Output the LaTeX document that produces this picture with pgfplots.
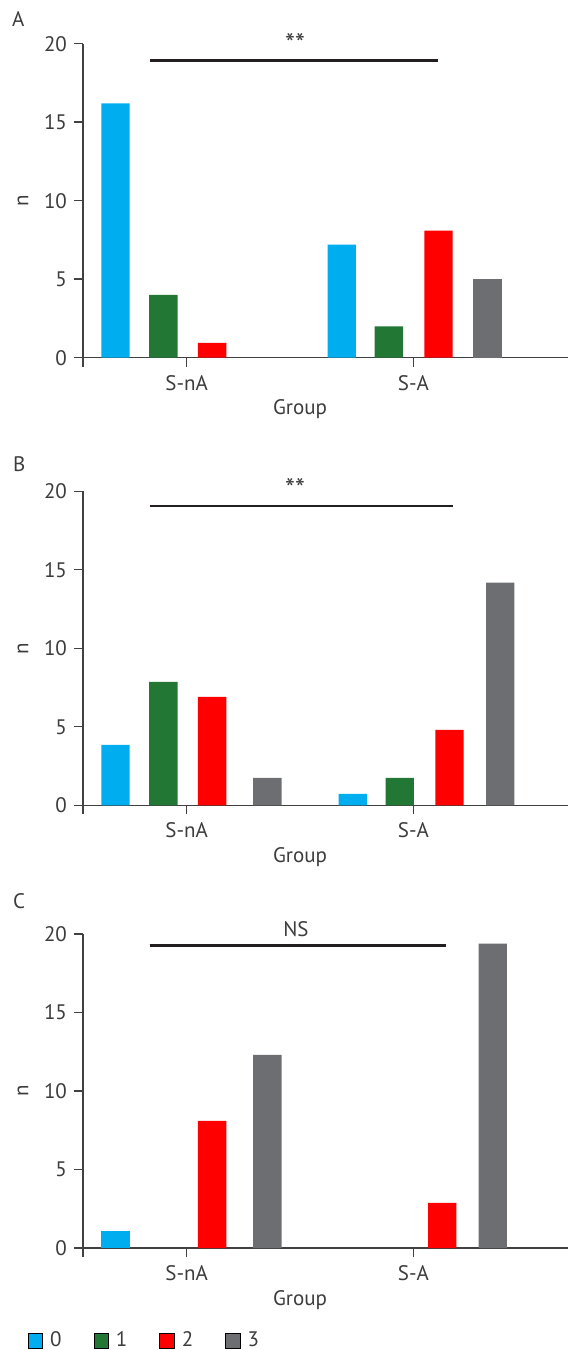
\documentclass[border=0pt]{standalone}
\usepackage{fontspec}
\setmainfont{PT Sans}
\usepackage{pgfplots}
\pgfplotsset{compat=1.18}
\definecolor{c0}{RGB}{0,174,239}
\definecolor{c1}{RGB}{35,119,52}
\definecolor{c2}{RGB}{255,0,0}
\definecolor{c3}{RGB}{109,110,114}
\definecolor{axc}{RGB}{65,64,66}
\definecolor{txt}{RGB}{60,60,60}
\definecolor{sig}{RGB}{35,31,32}
\newcommand{\fs}{\fontsize{10.5}{12}\selectfont}
\pgfplotsset{
 panel/.style={
  scale only axis, width=242.5pt, height=157pt,
  xmin=0.5426, xmax=2.682, ymin=0, ymax=20,
  axis lines*=left,
  axis line style={axc, line width=0.7pt},
  tick style={axc, line width=0.7pt},
  tick align=outside,
  major tick length=4.5pt,
  xtick={1,2}, xticklabels={S-nA,S-A},
  ytick={0,5,10,15,20},
  tick label style={font=\fs, text=txt},
  /pgf/number format/assume math mode=true,
  xticklabel style={anchor=base, yshift=-11.7pt},
  xlabel={Group}, ylabel={n},
  every axis x label/.style={at={(axis cs:1.5,0)}, anchor=base, yshift=-28.65pt, font=\fs, text=txt},
  every axis y label/.style={at={(axis description cs:-0.1237,0.5)}, rotate=90, anchor=center, font=\fs, text=txt},
  clip=false,
  anchor=south west,
 },
 bars/.style={ybar, bar width=0.125, bar shift=0pt, draw=none, fill=#1},
}
\begin{document}
\begin{tikzpicture}
\useasboundingbox (0pt,0pt) rectangle (284pt,675pt);
% Panel A
\begin{axis}[panel, at={(41.5pt,496.15pt)}]
\addplot[bars=c0] coordinates {(0.686,16.2) (1.684,7.2)};
\addplot[bars=c1] coordinates {(0.897,4.0) (1.892,2.0)};
\addplot[bars=c2] coordinates {(1.112,0.95) (2.111,8.1)};
\addplot[bars=c3] coordinates {(2.327,5.0)};
\draw[axc, line width=0.7pt] (axis cs:0.5426,0) -- ++(0pt,-4.5pt);
\draw[sig, line width=1.3pt] (axis cs:0.837,18.94) -- (axis cs:2.107,18.94);
\node[anchor=base, text=txt, font=\fontsize{14}{14}\selectfont] at (axis cs:1.478,19.38) {**};
\end{axis}
% Panel B
\begin{axis}[panel, at={(41.5pt,272.35pt)}]
\addplot[bars=c0] coordinates {(0.686,3.85) (1.733,0.72)};
\addplot[bars=c1] coordinates {(0.897,7.86) (1.940,1.74)};
\addplot[bars=c2] coordinates {(1.112,6.9) (2.159,4.8)};
\addplot[bars=c3] coordinates {(1.356,1.74) (2.383,14.18)};
\draw[axc, line width=0.7pt] (axis cs:0.5426,0) -- ++(0pt,-4.5pt);
\draw[sig, line width=1.3pt] (axis cs:0.837,19.07) -- (axis cs:2.175,19.07);
\node[anchor=base, text=txt, font=\fontsize{14}{14}\selectfont] at (axis cs:1.478,19.55) {**};
\end{axis}
% Panel C
\begin{axis}[panel, at={(41.5pt,51pt)},
  legend columns=4,
  legend style={draw=none, fill=none, inner sep=0pt, outer sep=0pt,
    at={(axis description cs:0,0)}, anchor=west, xshift=-27.65pt, yshift=-46.5pt,
    font=\fs, text=txt,
    /tikz/every odd column/.append style={column sep=1.5pt},
    /tikz/every even column/.append style={column sep=14pt}},
  legend image code/.code={\fill[#1] (0pt,-3.7pt) rectangle (7.3pt,3.7pt);},
]
\addplot[bars=c0, forget plot] coordinates {(0.686,1.08)};
\addplot[bars=c2, forget plot] coordinates {(1.112,8.1) (2.127,2.87)};
\addplot[bars=c3, forget plot] coordinates {(1.356,12.3) (2.350,19.38)};
\addlegendimage{fill=c0}\addlegendentry{0}
\addlegendimage{fill=c1}\addlegendentry{1}
\addlegendimage{fill=c2}\addlegendentry{2}
\addlegendimage{fill=c3}\addlegendentry{3}
\draw[axc, line width=0.7pt] (axis cs:0.5426,0) -- ++(0pt,-4.5pt);
\draw[sig, line width=1.3pt] (axis cs:0.837,19.26) -- (axis cs:2.144,19.26);
\node[anchor=base, text=txt, font=\fs] at (axis cs:1.482,19.85) {NS};
\end{axis}
\node[anchor=base west, text=txt, font=\fs, inner sep=0pt] at (5.8pt,661.65pt) {A};
\node[anchor=base west, text=txt, font=\fs, inner sep=0pt] at (6.3pt,439.15pt) {B};
\node[anchor=base west, text=txt, font=\fs, inner sep=0pt] at (6.3pt,220.85pt) {C};
\end{tikzpicture}
\end{document}
